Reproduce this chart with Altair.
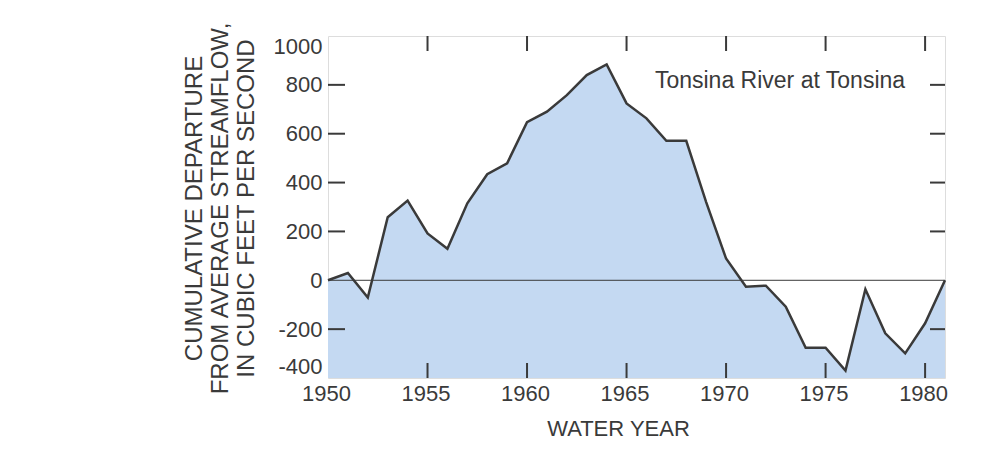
import altair as alt
import pandas as pd

years = list(range(1950, 1982))
departure = [0, 30, -71, 258, 326, 192, 129, 315, 434, 479, 647, 690, 758, 840,
             884, 724, 663, 571, 571, 320, 89, -26, -22, -108, -276, -276, -370,
             -37, -217, -299, -176, 0]
x_label_values = [1950, 1955, 1960, 1965, 1970, 1975, 1980]
y_label_values = [-400, -200, 0, 200, 400, 600, 800, 1000]
x_tick_values = [1955, 1960, 1965, 1970, 1975, 1980]
y_tick_values = [-200, 200, 400, 600, 800]
station = "Tonsina River at Tonsina"

W, H = 617, 342
TICK = 15
FONT = "Liberation Sans"
INK = "#3a3a3a"

df = pd.DataFrame({"year": years, "dep": departure})
xt = pd.DataFrame({"year": x_tick_values})
yt = pd.DataFrame({"v": y_tick_values})

xs = alt.Scale(domain=[1950, 1981], nice=False, zero=False)
ys = alt.Scale(domain=[-400, 1000], nice=False, zero=False)

x_enc = alt.X("year:Q", scale=xs, axis=alt.Axis(
    values=x_label_values, labelExpr="'' + datum.value", title="WATER YEAR",
    ticks=False, tickSize=0, domain=False, grid=False, labelFontSize=22,
    labelPadding=5, labelColor=INK, labelFont=FONT, labelFlush=False, labelOffset=-2,
    titleFont=FONT, titleFontSize=22, titleFontWeight="normal",
    titleColor=INK, titleX=290, titleY=50, titleBaseline="middle", titleAnchor="start",
    titleAlign="center"))
y_enc = alt.Y("dep:Q", scale=ys, axis=alt.Axis(
    values=y_label_values, labelExpr="'' + datum.value",
    title=["CUMULATIVE DEPARTURE", "FROM AVERAGE STREAMFLOW,", "IN CUBIC FEET PER SECOND"],
    ticks=False, tickSize=0, domain=False, grid=False, labelFontSize=22,
    labelPadding=6, labelColor=INK, labelFont=FONT, labelFlush=True,
    titleFont=FONT, titleFontSize=24, titleFontWeight="normal", titleColor=INK,
    titleX=-146, titleY=172, titleBaseline="top", titleAlign="center",
    titleAngle=270, titleLineHeight=26))

base = alt.Chart(df)
area = base.mark_area(color="#c4d9f2", opacity=1).encode(
    x=x_enc, y=y_enc, y2=alt.datum(-400))
zero = alt.Chart(pd.DataFrame({"z": [0]})).mark_rule(color=INK, strokeWidth=1).encode(
    y=alt.Y("z:Q", scale=ys), x=alt.value(0), x2=alt.value(W))
line = base.mark_line(color=INK, strokeWidth=2.5).encode(
    x=alt.X("year:Q", scale=xs), y=alt.Y("dep:Q", scale=ys))

top_ticks = alt.Chart(xt).mark_rule(color=INK, strokeWidth=2).encode(
    x=alt.X("year:Q", scale=xs), y=alt.value(0), y2=alt.value(TICK))
bot_ticks = alt.Chart(xt).mark_rule(color=INK, strokeWidth=2).encode(
    x=alt.X("year:Q", scale=xs), y=alt.value(H), y2=alt.value(H - TICK))
left_ticks = alt.Chart(yt).mark_rule(color=INK, strokeWidth=2).encode(
    y=alt.Y("v:Q", scale=ys), x=alt.value(0), x2=alt.value(TICK + 2))
right_ticks = alt.Chart(yt).mark_rule(color=INK, strokeWidth=2).encode(
    y=alt.Y("v:Q", scale=ys), x=alt.value(W), x2=alt.value(W - TICK))

label = alt.Chart(pd.DataFrame({"t": [station]})).mark_text(
    font=FONT, fontSize=23, color=INK, align="center", baseline="alphabetic").encode(
    text="t:N", x=alt.value(452), y=alt.value(52))

chart = alt.layer(area, zero, line, top_ticks, bot_ticks, left_ticks, right_ticks, label
).properties(
    width=W, height=H,
    autosize=alt.AutoSizeParams(type="none"),
    padding={"left": 320, "top": 28, "right": 40, "bottom": 70},
).configure_view(stroke=INK, strokeWidth=2.5).configure(background="white")

chart.save("out.html", embed_options={"renderer": "svg", "actions": False})
